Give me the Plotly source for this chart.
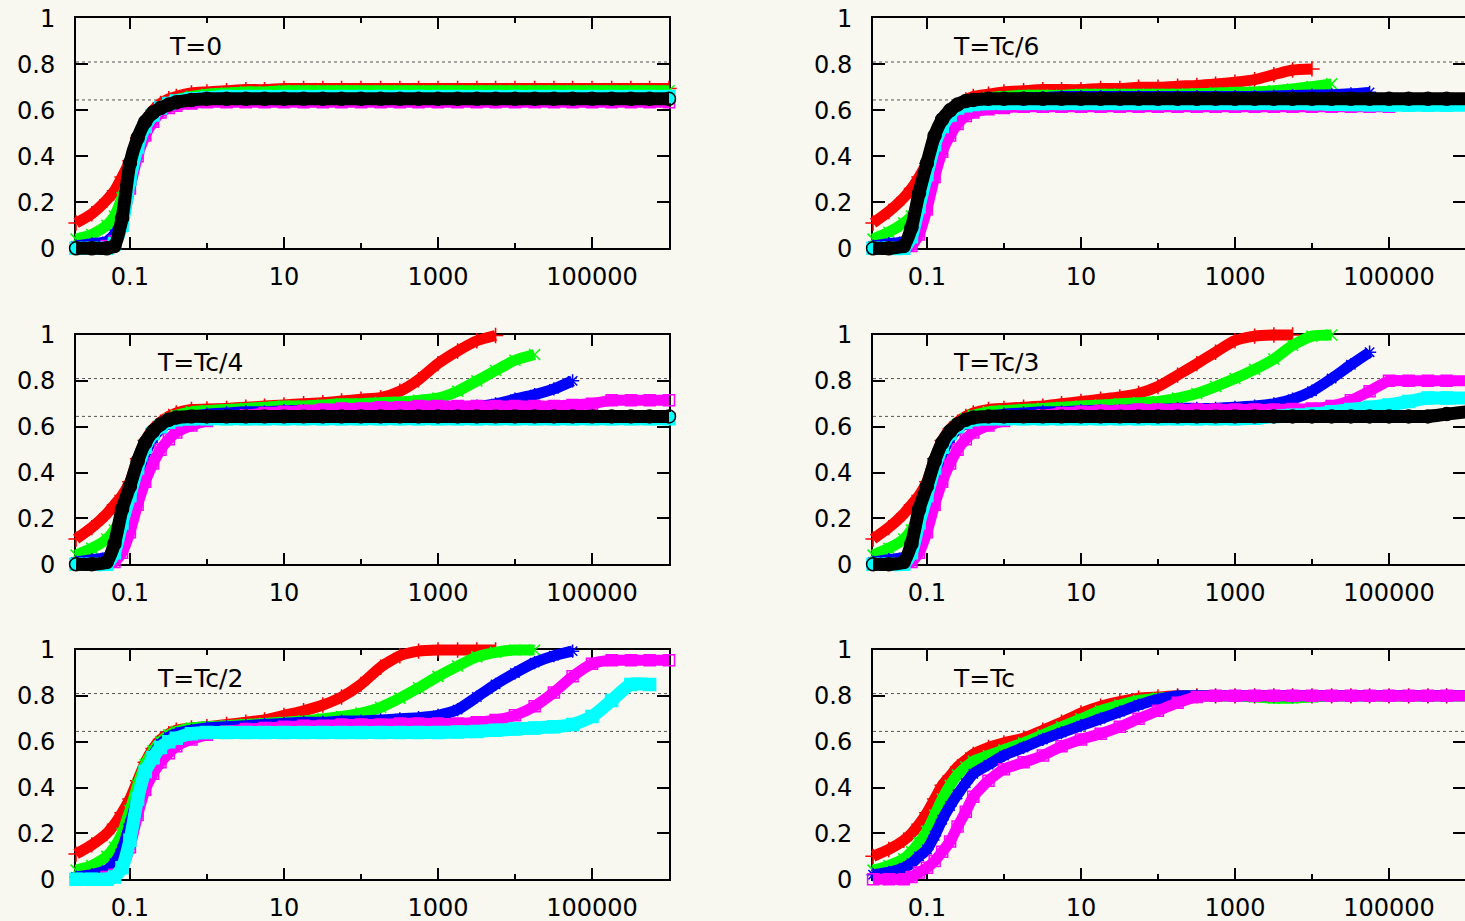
import plotly.graph_objects as go

W, H = 1465, 921
BG = "#f8f7f0"
FONT = "DejaVu Sans"

# common sampling times (log spaced)
X = [0.02, 0.032, 0.05, 0.063, 0.079, 0.1, 0.126, 0.158, 0.2, 0.25, 0.32, 0.4, 0.63,
     1, 1.8, 3.2, 5.6, 10, 18, 32, 56, 100, 180, 320, 560, 1000,
     1800, 3200, 5600, 1e4, 1.8e4, 3.2e4, 5.6e4, 1e5, 1.8e5, 3.2e5, 5.6e5, 1e6]

X_TICKS = [0.1, 10, 1000, 100000]
X_TICK_TEXT = ["0.1", "10", "1000", "100000"]
X_MINOR = [1, 100, 10000]
Y_TICKS = [0, 0.2, 0.4, 0.6, 0.8, 1]
Y_TICK_TEXT = ["0", "0.2", "0.4", "0.6", "0.8", "1"]
REF_LEVELS = [0.81, 0.645]

# ---- T=0 ----
T0_RED = [0.11, 0.15, 0.21, 0.25, 0.31, 0.38, 0.48, 0.55, 0.60, 0.63, 0.65, 0.66, 0.675,
          0.68, 0.685, 0.69, 0.69, 0.695, 0.695, 0.695, 0.695, 0.695, 0.695, 0.695, 0.695, 0.695,
          0.695, 0.695, 0.695, 0.695, 0.695, 0.695, 0.695, 0.695, 0.695, 0.695, 0.695, 0.695]
T0_GREEN = [0.04, 0.06, 0.10, 0.14, 0.22, 0.33, 0.45, 0.53, 0.58, 0.61, 0.63, 0.645, 0.66,
            0.67, 0.675, 0.68, 0.68, 0.685, 0.685, 0.685, 0.685, 0.685, 0.685, 0.685, 0.685, 0.685,
            0.685, 0.685, 0.685, 0.685, 0.685, 0.685, 0.685, 0.685, 0.685, 0.685, 0.685, 0.685]
T0_BLUE = [0.01, 0.02, 0.03, 0.06, 0.12, 0.28, 0.41, 0.50, 0.56, 0.60, 0.62, 0.635, 0.645,
           0.65, 0.65, 0.655, 0.655, 0.655, 0.655, 0.655, 0.655, 0.655, 0.655, 0.655, 0.655, 0.655,
           0.655, 0.655, 0.655, 0.655, 0.655, 0.655, 0.655, 0.655, 0.655, 0.655, 0.655, 0.655]
T0_MAGENTA = [0.0, 0.0, 0.01, 0.03, 0.10, 0.26, 0.40, 0.49, 0.55, 0.59, 0.61, 0.62, 0.63,
              0.635, 0.635, 0.635, 0.635, 0.635, 0.635, 0.635, 0.635, 0.635, 0.635, 0.635, 0.635, 0.635,
              0.635, 0.635, 0.635, 0.635, 0.635, 0.635, 0.635, 0.635, 0.635, 0.635, 0.635, 0.635]
T0_CYAN = [0.0, 0.0, 0.0, 0.02, 0.10, 0.30, 0.44, 0.53, 0.58, 0.61, 0.63, 0.64, 0.65,
           0.655, 0.66, 0.66, 0.66, 0.66, 0.66, 0.66, 0.66, 0.66, 0.66, 0.66, 0.66, 0.66,
           0.66, 0.66, 0.66, 0.66, 0.66, 0.66, 0.66, 0.66, 0.66, 0.66, 0.66, 0.66]
T0_BLACK = [0.0, 0.0, 0.0, 0.01, 0.13, 0.37, 0.48, 0.55, 0.59, 0.61, 0.625, 0.635, 0.645,
            0.65, 0.65, 0.65, 0.65, 0.65, 0.65, 0.65, 0.65, 0.65, 0.65, 0.65, 0.65, 0.65,
            0.65, 0.65, 0.65, 0.65, 0.65, 0.65, 0.65, 0.65, 0.65, 0.65, 0.65, 0.65]

# ---- T=Tc/6 ----
T6_RED = [0.11, 0.16, 0.22, 0.26, 0.31, 0.37, 0.46, 0.54, 0.59, 0.62, 0.645, 0.66, 0.67,
          0.68, 0.685, 0.69, 0.69, 0.69, 0.695, 0.695, 0.70, 0.70, 0.705, 0.708, 0.714, 0.722,
          0.733, 0.755, 0.775, 0.78, None, None, None, None, None, None, None, None]
T6_GREEN = [0.04, 0.07, 0.11, 0.14, 0.20, 0.30, 0.42, 0.52, 0.58, 0.61, 0.63, 0.645, 0.655,
            0.66, 0.665, 0.665, 0.665, 0.67, 0.67, 0.67, 0.67, 0.67, 0.67, 0.672, 0.675, 0.678,
            0.68, 0.685, 0.693, 0.703, 0.715, None, None, None, None, None, None, None]
T6_BLUE = [0.01, 0.02, 0.03, 0.06, 0.15, 0.30, 0.43, 0.52, 0.57, 0.60, 0.62, 0.635, 0.645,
           0.65, 0.655, 0.655, 0.66, 0.66, 0.66, 0.66, 0.66, 0.66, 0.66, 0.66, 0.66, 0.66,
           0.66, 0.662, 0.664, 0.666, 0.668, 0.672, 0.678, None, None, None, None, None]
T6_MAGENTA = [0.0, 0.0, 0.0, 0.01, 0.06, 0.17, 0.31, 0.42, 0.49, 0.54, 0.575, 0.59, 0.605,
              0.61, 0.615, 0.615, 0.615, 0.615, 0.615, 0.615, 0.615, 0.615, 0.615, 0.615, 0.615, 0.615,
              0.615, 0.615, 0.615, 0.615, 0.615, 0.615, 0.615, 0.615, None, None, None, None]
T6_CYAN = [0.0, 0.0, 0.0, 0.05, 0.18, 0.32, 0.45, 0.53, 0.58, 0.61, 0.62, 0.625, 0.63,
           0.63, 0.63, 0.63, 0.63, 0.63, 0.63, 0.63, 0.63, 0.63, 0.63, 0.63, 0.63, 0.63,
           0.63, 0.63, 0.63, 0.628, 0.626, 0.625, 0.624, 0.623, 0.622, 0.622, 0.622, 0.622]
T6_BLACK = [0.0, 0.0, 0.01, 0.09, 0.24, 0.37, 0.49, 0.56, 0.60, 0.625, 0.64, 0.645, 0.65,
            0.65, 0.65, 0.65, 0.65, 0.65, 0.65, 0.65, 0.65, 0.65, 0.65, 0.65, 0.65, 0.65,
            0.65, 0.65, 0.65, 0.65, 0.65, 0.65, 0.65, 0.65, 0.65, 0.65, 0.65, 0.65]

# ---- T=Tc/4 ----
T4_RED = [0.11, 0.16, 0.22, 0.26, 0.30, 0.36, 0.46, 0.54, 0.59, 0.62, 0.645, 0.66, 0.675,
          0.677, 0.68, 0.685, 0.69, 0.695, 0.70, 0.705, 0.712, 0.72, 0.727, 0.755, 0.805, 0.875,
          0.93, 0.975, 0.998, None, None, None, None, None, None, None, None, None]
T4_GREEN = [0.04, 0.07, 0.11, 0.15, 0.21, 0.30, 0.42, 0.51, 0.57, 0.61, 0.635, 0.65, 0.665,
            0.67, 0.675, 0.68, 0.685, 0.69, 0.69, 0.695, 0.70, 0.70, 0.705, 0.708, 0.715, 0.725,
            0.755, 0.80, 0.845, 0.89, 0.915, None, None, None, None, None, None, None]
T4_BLUE = [0.01, 0.02, 0.03, 0.05, 0.12, 0.25, 0.38, 0.48, 0.55, 0.59, 0.615, 0.63, 0.645,
           0.655, 0.66, 0.665, 0.665, 0.67, 0.67, 0.67, 0.67, 0.675, 0.675, 0.675, 0.68, 0.68,
           0.685, 0.69, 0.70, 0.72, 0.74, 0.765, 0.80, None, None, None, None, None]
T4_MAGENTA = [0.0, 0.0, 0.0, 0.01, 0.05, 0.14, 0.26, 0.36, 0.44, 0.50, 0.545, 0.575, 0.605,
              0.625, 0.64, 0.65, 0.66, 0.665, 0.67, 0.675, 0.68, 0.68, 0.685, 0.685, 0.69, 0.69,
              0.69, 0.69, 0.69, 0.69, 0.69, 0.69, 0.695, 0.70, 0.715, 0.715, 0.715, 0.715]
T4_CYAN = [0.0, 0.0, 0.0, 0.05, 0.18, 0.30, 0.42, 0.51, 0.57, 0.60, 0.62, 0.63, 0.635,
           0.635, 0.635, 0.635, 0.635, 0.635, 0.635, 0.635, 0.635, 0.635, 0.635, 0.635, 0.635, 0.635,
           0.635, 0.635, 0.635, 0.635, 0.635, 0.635, 0.635, 0.635, 0.635, 0.635, 0.635, 0.635]
T4_BLACK = [0.0, 0.0, 0.01, 0.09, 0.24, 0.34, 0.45, 0.53, 0.58, 0.61, 0.63, 0.64, 0.645,
            0.645, 0.645, 0.645, 0.645, 0.645, 0.645, 0.645, 0.645, 0.645, 0.645, 0.645, 0.645, 0.645,
            0.645, 0.645, 0.645, 0.645, 0.645, 0.645, 0.645, 0.645, 0.645, 0.645, 0.645, 0.645]

# ---- T=Tc/3 ----
T3_RED = [0.11, 0.16, 0.22, 0.26, 0.30, 0.36, 0.46, 0.54, 0.59, 0.62, 0.645, 0.66, 0.675,
          0.68, 0.685, 0.69, 0.70, 0.71, 0.72, 0.73, 0.745, 0.775, 0.825, 0.875, 0.925, 0.975,
          0.995, 1.0, 1.0, None, None, None, None, None, None, None, None, None]
T3_GREEN = [0.04, 0.07, 0.11, 0.15, 0.21, 0.30, 0.42, 0.51, 0.57, 0.61, 0.635, 0.65, 0.665,
            0.67, 0.675, 0.68, 0.685, 0.69, 0.695, 0.70, 0.705, 0.71, 0.725, 0.745, 0.775, 0.81,
            0.85, 0.895, 0.955, 0.995, 1.0, None, None, None, None, None, None, None]
T3_BLUE = [0.01, 0.02, 0.03, 0.05, 0.12, 0.25, 0.38, 0.48, 0.55, 0.59, 0.615, 0.63, 0.645,
           0.655, 0.66, 0.665, 0.665, 0.67, 0.67, 0.67, 0.675, 0.675, 0.68, 0.68, 0.68, 0.685,
           0.69, 0.70, 0.72, 0.755, 0.81, 0.87, 0.925, None, None, None, None, None]
T3_MAGENTA = [0.0, 0.0, 0.0, 0.01, 0.05, 0.14, 0.26, 0.36, 0.44, 0.50, 0.545, 0.575, 0.605,
              0.625, 0.64, 0.65, 0.66, 0.665, 0.67, 0.67, 0.675, 0.675, 0.675, 0.675, 0.675, 0.675,
              0.675, 0.675, 0.677, 0.68, 0.69, 0.715, 0.755, 0.80, 0.80, 0.80, 0.80, 0.80]
T3_CYAN = [0.0, 0.0, 0.0, 0.05, 0.18, 0.30, 0.42, 0.51, 0.57, 0.60, 0.62, 0.63, 0.635,
           0.635, 0.635, 0.635, 0.635, 0.635, 0.635, 0.635, 0.635, 0.635, 0.635, 0.635, 0.635, 0.635,
           0.637, 0.645, 0.65, 0.655, 0.665, 0.675, 0.685, 0.695, 0.71, 0.725, 0.725, 0.725]
T3_BLACK = [0.0, 0.0, 0.01, 0.09, 0.24, 0.34, 0.45, 0.53, 0.58, 0.61, 0.63, 0.64, 0.645,
            0.645, 0.645, 0.645, 0.645, 0.645, 0.645, 0.645, 0.645, 0.645, 0.645, 0.645, 0.645, 0.645,
            0.645, 0.645, 0.645, 0.645, 0.645, 0.645, 0.645, 0.645, 0.645, 0.645, 0.655, 0.665]

# ---- T=Tc/2 ----
T2_RED = [0.11, 0.15, 0.20, 0.24, 0.29, 0.35, 0.43, 0.51, 0.57, 0.61, 0.635, 0.65, 0.66,
          0.665, 0.675, 0.685, 0.695, 0.715, 0.735, 0.76, 0.795, 0.85, 0.925, 0.975, 0.995, 1.0,
          1.0, 1.0, 1.0, None, None, None, None, None, None, None, None, None]
T2_GREEN = [0.04, 0.06, 0.10, 0.14, 0.20, 0.30, 0.41, 0.50, 0.56, 0.60, 0.63, 0.645, 0.66,
            0.665, 0.67, 0.675, 0.68, 0.685, 0.69, 0.70, 0.71, 0.725, 0.75, 0.79, 0.835, 0.885,
            0.93, 0.97, 0.99, 1.0, 1.0, None, None, None, None, None, None, None]
T2_BLUE = [0.01, 0.02, 0.04, 0.07, 0.13, 0.24, 0.36, 0.46, 0.54, 0.59, 0.62, 0.635, 0.65,
           0.66, 0.665, 0.67, 0.675, 0.68, 0.685, 0.685, 0.69, 0.69, 0.695, 0.70, 0.705, 0.715,
           0.74, 0.795, 0.85, 0.90, 0.945, 0.975, 0.995, None, None, None, None, None]
T2_MAGENTA = [0.0, 0.0, 0.01, 0.02, 0.05, 0.14, 0.28, 0.39, 0.46, 0.51, 0.55, 0.58, 0.61,
              0.63, 0.645, 0.655, 0.66, 0.665, 0.67, 0.67, 0.675, 0.675, 0.675, 0.68, 0.68, 0.68,
              0.68, 0.685, 0.695, 0.715, 0.755, 0.815, 0.885, 0.94, 0.955, 0.955, 0.955, 0.955]
T2_CYAN = [0.0, 0.0, 0.0, 0.01, 0.05, 0.17, 0.35, 0.47, 0.53, 0.575, 0.60, 0.615, 0.635,
           0.64, 0.64, 0.64, 0.64, 0.64, 0.64, 0.64, 0.64, 0.64, 0.64, 0.64, 0.64, 0.64,
           0.642, 0.645, 0.65, 0.655, 0.66, 0.665, 0.675, 0.71, 0.78, 0.85, 0.85, None]

# ---- T=Tc ----
T1_RED = [0.10, 0.13, 0.17, 0.20, 0.24, 0.29, 0.35, 0.41, 0.45, 0.49, 0.52, 0.545, 0.575,
          0.595, 0.615, 0.65, 0.685, 0.725, 0.755, 0.775, 0.79, 0.795, 0.80, 0.80, 0.80, 0.80,
          0.80, 0.80, 0.80, 0.80, 0.80, 0.80, 0.80, 0.80, 0.80, 0.80, 0.80, 0.80]
T1_GREEN = [0.04, 0.06, 0.09, 0.12, 0.16, 0.21, 0.28, 0.35, 0.41, 0.455, 0.49, 0.515, 0.54,
            0.565, 0.595, 0.63, 0.665, 0.70, 0.735, 0.76, 0.78, 0.79, 0.795, 0.80, 0.80, 0.80,
            0.795, 0.79, 0.79, 0.795, 0.80, 0.80, 0.80, 0.80, 0.80, 0.80, 0.80, 0.80]
T1_BLUE = [0.02, 0.03, 0.05, 0.07, 0.10, 0.13, 0.19, 0.26, 0.32, 0.37, 0.42, 0.46, 0.50,
           0.54, 0.575, 0.61, 0.64, 0.67, 0.70, 0.73, 0.76, 0.785, 0.80, 0.80, 0.80, 0.80,
           0.80, 0.80, 0.80, 0.80, 0.80, 0.80, 0.80, 0.80, 0.80, 0.80, 0.80, 0.80]
T1_MAGENTA = [0.0, 0.0, 0.0, 0.01, 0.03, 0.05, 0.08, 0.12, 0.165, 0.23, 0.295, 0.36, 0.43,
              0.48, 0.51, 0.54, 0.58, 0.61, 0.635, 0.665, 0.70, 0.735, 0.77, 0.795, 0.80, 0.80,
              0.80, 0.80, 0.80, 0.80, 0.80, 0.80, 0.80, 0.80, 0.80, 0.80, 0.80, 0.80]

# colour, marker symbol, band width, marker size
STYLE = {
    "red": ("#ff0000", "cross-thin", 11, 11),
    "green": ("#00ff00", "x-thin", 11, 11),
    "blue": ("#0000ff", "asterisk-open", 11, 11),
    "magenta": ("#ff00ff", "square-open", 11, 11),
    "cyan": ("#00ffff", "square", 13, 12),
    "black": ("#000000", "circle-open", 13, 13),
}

# (label, series, row, col, label left edge in px)
PANELS = [
    ("T=0", {"red": T0_RED, "green": T0_GREEN, "blue": T0_BLUE, "magenta": T0_MAGENTA,
             "cyan": T0_CYAN, "black": T0_BLACK}, 0, 0, 167),
    ("T=Tc/6", {"red": T6_RED, "green": T6_GREEN, "blue": T6_BLUE, "magenta": T6_MAGENTA,
                "cyan": T6_CYAN, "black": T6_BLACK}, 0, 1, 951),
    ("T=Tc/4", {"red": T4_RED, "green": T4_GREEN, "blue": T4_BLUE, "magenta": T4_MAGENTA,
                "cyan": T4_CYAN, "black": T4_BLACK}, 1, 0, 155),
    ("T=Tc/3", {"red": T3_RED, "green": T3_GREEN, "blue": T3_BLUE, "magenta": T3_MAGENTA,
                "cyan": T3_CYAN, "black": T3_BLACK}, 1, 1, 951),
    ("T=Tc/2", {"red": T2_RED, "green": T2_GREEN, "blue": T2_BLUE, "magenta": T2_MAGENTA,
                "cyan": T2_CYAN}, 2, 0, 155),
    ("T=Tc", {"red": T1_RED, "green": T1_GREEN, "blue": T1_BLUE, "magenta": T1_MAGENTA}, 2, 1, 951),
]

# panel frames in pixels
COL_X = [(76, 669), (873, 1466)]
ROW_Y = [(18.3, 248.3), (335, 564.3), (650, 879.3)]
LOG_MIN, LOG_MAX = -1.7, 6.0
PAD = 16

fig = go.Figure()
layout = {}
shapes, annotations = [], []


def axname(prefix, n):
    return prefix if n == 1 else f"{prefix}{n}"


for i, (label, series, r, c, lx) in enumerate(PANELS):
    n_frame = i + 1
    n_data = i + 7
    x0, x1 = COL_X[c]
    t, b = ROW_Y[r]
    ppd = (x1 - x0) / (LOG_MAX - LOG_MIN)
    hy = b - t
    xr = "x" if n_frame == 1 else f"x{n_frame}"
    yr = "y" if n_frame == 1 else f"y{n_frame}"

    fx1 = min(x1, W)
    layout[axname("xaxis", n_frame)] = dict(
        domain=[x0 / W, fx1 / W], type="log",
        range=[LOG_MIN, LOG_MIN + (fx1 - x0) / ppd], anchor=yr, automargin=False,
        showline=True, linecolor="black", linewidth=2, mirror="allticks",
        ticks="inside", ticklen=11, tickwidth=2, tickcolor="black",
        tickvals=X_TICKS, ticktext=X_TICK_TEXT,
        minor=dict(tickvals=X_MINOR, ticks="inside", ticklen=5, tickwidth=2, tickcolor="black"),
        showgrid=False, zeroline=False, ticklabelstandoff=6,
        tickfont=dict(family=FONT, size=24, color="black"),
    )
    layout[axname("yaxis", n_frame)] = dict(
        domain=[1 - b / H, 1 - t / H], range=[0, 1], anchor=xr, automargin=False,
        showline=True, linecolor="black", linewidth=2, mirror="allticks",
        ticks="inside", ticklen=12, tickwidth=2, tickcolor="black",
        tickvals=Y_TICKS, ticktext=Y_TICK_TEXT,
        showgrid=False, zeroline=False, ticklabelstandoff=14,
        tickfont=dict(family=FONT, size=24, color="black"),
    )

    # data axes share the frame's scale but extend past it so marks are not cut off
    dx0, dx1 = max(x0 - PAD, 0), min(x1 + PAD, W)
    dt, db = t - PAD, b + PAD
    layout[f"xaxis{n_data}"] = dict(
        domain=[dx0 / W, dx1 / W], type="log",
        range=[LOG_MIN + (dx0 - x0) / ppd, LOG_MIN + (dx1 - x0) / ppd],
        anchor=f"y{n_data}", visible=False, showgrid=False, zeroline=False, automargin=False,
    )
    layout[f"yaxis{n_data}"] = dict(
        domain=[1 - db / H, 1 - dt / H],
        range=[-PAD / hy, 1 + PAD / hy],
        anchor=f"x{n_data}", visible=False, showgrid=False, zeroline=False, automargin=False,
    )

    for lvl in REF_LEVELS:
        shapes.append(dict(type="line", xref=f"{xr} domain", yref=yr, x0=0, x1=1, y0=lvl, y1=lvl,
                           line=dict(color="#555555", width=1, dash="dot"), layer="below"))

    annotations.append(dict(text=label, xref="paper", yref="paper", x=lx / W, y=1 - (t + 28) / H,
                            xanchor="left", yanchor="middle", showarrow=False,
                            font=dict(family=FONT, size=25, color="black")))

    for name in ["red", "green", "blue", "magenta", "cyan", "black"]:
        if name not in series:
            continue
        col, sym, lw, ms = STYLE[name]
        fig.add_trace(go.Scatter(
            x=X, y=series[name], mode="lines+markers",
            line=dict(color=col, width=lw, shape="spline", smoothing=0.6),
            marker=dict(symbol=sym, size=ms, color=col, line=dict(color=col, width=1.5)),
            xaxis=f"x{n_data}", yaxis=f"y{n_data}", showlegend=False, hoverinfo="skip",
            cliponaxis=False,
        ))

fig.update_layout(
    width=W, height=H, margin=dict(l=0, r=0, t=0, b=0, autoexpand=False),
    paper_bgcolor=BG, plot_bgcolor="rgba(0,0,0,0)", showlegend=False,
    font=dict(family=FONT, size=24, color="black"),
    shapes=shapes, annotations=annotations, **layout,
)

fig.write_html("out.html")
